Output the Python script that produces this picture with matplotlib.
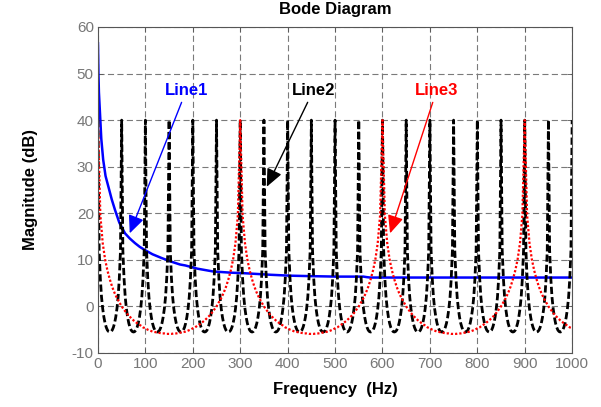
import numpy as np
import matplotlib.pyplot as plt

plt.rcParams['font.family'] = ['Liberation Sans', 'DejaVu Sans']
plt.rcParams['axes.unicode_minus'] = False

# Line1: blue solid curve
line1_freq = [0, 1, 2, 4, 7, 11, 16, 22, 29, 36, 45, 57, 67, 78, 88, 99, 115, 134,
              155, 173, 184, 210, 243, 280, 314, 363, 405, 450, 503, 560, 566, 574,
              700, 850, 1000]
line1_mag = [56.5, 50, 46, 42, 36, 31.5, 28, 25.7, 23, 20.7, 18, 15.7, 14.6, 13.6,
             12.8, 12.1, 11.2, 10.4, 9.6, 9.0, 8.8, 8.1, 7.5, 7.25, 7.1, 6.8, 6.6,
             6.5, 6.4, 6.4, 6.3, 6.2, 6.2, 6.2, 6.2]

# Line2: black dashed curve, sampled every 2.5 Hz (one row per 50 Hz)
line2_freq = np.arange(0, 1000.1, 2.5)
line2_mag = [
    40, 12, 6, 2, -0.5, -2.3, -3.6, -4.5, -5.1, -5.4, -5.5, -5.4, -5.1, -4.5, -3.6, -2.3, -0.5, 2, 6, 12,
    40, 12, 6, 2, -0.5, -2.3, -3.6, -4.5, -5.1, -5.4, -5.5, -5.4, -5.1, -4.5, -3.6, -2.3, -0.5, 2, 6, 12,
    40, 12, 6, 2, -0.5, -2.3, -3.6, -4.5, -5.1, -5.4, -5.5, -5.4, -5.1, -4.5, -3.6, -2.3, -0.5, 2, 6, 12,
    40, 12, 6, 2, -0.5, -2.3, -3.6, -4.5, -5.1, -5.4, -5.5, -5.4, -5.1, -4.5, -3.6, -2.3, -0.5, 2, 6, 12,
    40, 12, 6, 2, -0.5, -2.3, -3.6, -4.5, -5.1, -5.4, -5.5, -5.4, -5.1, -4.5, -3.6, -2.3, -0.5, 2, 6, 12,
    40, 12, 6, 2, -0.5, -2.3, -3.6, -4.5, -5.1, -5.4, -5.5, -5.4, -5.1, -4.5, -3.6, -2.3, -0.5, 2, 6, 12,
    40, 12, 6, 2, -0.5, -2.3, -3.6, -4.5, -5.1, -5.4, -5.5, -5.4, -5.1, -4.5, -3.6, -2.3, -0.5, 2, 6, 12,
    40, 12, 6, 2, -0.5, -2.3, -3.6, -4.5, -5.1, -5.4, -5.5, -5.4, -5.1, -4.5, -3.6, -2.3, -0.5, 2, 6, 12,
    40, 12, 6, 2, -0.5, -2.3, -3.6, -4.5, -5.1, -5.4, -5.5, -5.4, -5.1, -4.5, -3.6, -2.3, -0.5, 2, 6, 12,
    40, 12, 6, 2, -0.5, -2.3, -3.6, -4.5, -5.1, -5.4, -5.5, -5.4, -5.1, -4.5, -3.6, -2.3, -0.5, 2, 6, 12,
    40, 12, 6, 2, -0.5, -2.3, -3.6, -4.5, -5.1, -5.4, -5.5, -5.4, -5.1, -4.5, -3.6, -2.3, -0.5, 2, 6, 12,
    40, 12, 6, 2, -0.5, -2.3, -3.6, -4.5, -5.1, -5.4, -5.5, -5.4, -5.1, -4.5, -3.6, -2.3, -0.5, 2, 6, 12,
    40, 12, 6, 2, -0.5, -2.3, -3.6, -4.5, -5.1, -5.4, -5.5, -5.4, -5.1, -4.5, -3.6, -2.3, -0.5, 2, 6, 12,
    40, 12, 6, 2, -0.5, -2.3, -3.6, -4.5, -5.1, -5.4, -5.5, -5.4, -5.1, -4.5, -3.6, -2.3, -0.5, 2, 6, 12,
    40, 12, 6, 2, -0.5, -2.3, -3.6, -4.5, -5.1, -5.4, -5.5, -5.4, -5.1, -4.5, -3.6, -2.3, -0.5, 2, 6, 12,
    40, 12, 6, 2, -0.5, -2.3, -3.6, -4.5, -5.1, -5.4, -5.5, -5.4, -5.1, -4.5, -3.6, -2.3, -0.5, 2, 6, 12,
    40, 12, 6, 2, -0.5, -2.3, -3.6, -4.5, -5.1, -5.4, -5.5, -5.4, -5.1, -4.5, -3.6, -2.3, -0.5, 2, 6, 12,
    40, 12, 6, 2, -0.5, -2.3, -3.6, -4.5, -5.1, -5.4, -5.5, -5.4, -5.1, -4.5, -3.6, -2.3, -0.5, 2, 6, 12,
    40, 12, 6, 2, -0.5, -2.3, -3.6, -4.5, -5.1, -5.4, -5.5, -5.4, -5.1, -4.5, -3.6, -2.3, -0.5, 2, 6, 12,
    40, 12, 6, 2, -0.5, -2.3, -3.6, -4.5, -5.1, -5.4, -5.5, -5.4, -5.1, -4.5, -3.6, -2.3, -0.5, 2, 6, 12,
    40,
]

# Line3: red dotted curve, sampled every 5 Hz
line3_freq = np.arange(0, 1000.1, 5)
line3_mag = [
    # 0 - 295 Hz
    40, 19.6, 13.6, 10.1, 7.7, 5.8, 4.2, 2.9, 1.8, 0.9, 0.0, -0.7, -1.4, -2.0, -2.5,
    -3.0, -3.4, -3.8, -4.1, -4.5, -4.7, -5.0, -5.2, -5.4, -5.5, -5.6, -5.7, -5.8, -5.8, -5.9,
    -5.9, -5.9, -5.8, -5.8, -5.7, -5.6, -5.5, -5.4, -5.2, -5.0, -4.7, -4.5, -4.1, -3.8, -3.4,
    -3.0, -2.5, -2.0, -1.4, -0.7, 0.0, 0.9, 1.8, 2.9, 4.2, 5.8, 7.7, 10.1, 13.6, 19.6,
    # 300 - 595 Hz
    40, 19.6, 13.6, 10.1, 7.7, 5.8, 4.2, 2.9, 1.8, 0.9, 0.0, -0.7, -1.4, -2.0, -2.5,
    -3.0, -3.4, -3.8, -4.1, -4.5, -4.7, -5.0, -5.2, -5.4, -5.5, -5.6, -5.7, -5.8, -5.8, -5.9,
    -5.9, -5.9, -5.8, -5.8, -5.7, -5.6, -5.5, -5.4, -5.2, -5.0, -4.7, -4.5, -4.1, -3.8, -3.4,
    -3.0, -2.5, -2.0, -1.4, -0.7, 0.0, 0.9, 1.8, 2.9, 4.2, 5.8, 7.7, 10.1, 13.6, 19.6,
    # 600 - 895 Hz
    40, 19.6, 13.6, 10.1, 7.7, 5.8, 4.2, 2.9, 1.8, 0.9, 0.0, -0.7, -1.4, -2.0, -2.5,
    -3.0, -3.4, -3.8, -4.1, -4.5, -4.7, -5.0, -5.2, -5.4, -5.5, -5.6, -5.7, -5.8, -5.8, -5.9,
    -5.9, -5.9, -5.8, -5.8, -5.7, -5.6, -5.5, -5.4, -5.2, -5.0, -4.7, -4.5, -4.1, -3.8, -3.4,
    -3.0, -2.5, -2.0, -1.4, -0.7, 0.0, 0.9, 1.8, 2.9, 4.2, 5.8, 7.7, 10.1, 13.6, 19.6,
    # 900 - 1000 Hz
    40, 19.6, 13.6, 10.1, 7.7, 5.8, 4.2, 2.9, 1.8, 0.9, 0.0, -0.7, -1.4, -2.0, -2.5,
    -3.0, -3.4, -3.8, -4.1, -4.5, -4.7,
]

x_ticks = [0, 100, 200, 300, 400, 500, 600, 700, 800, 900, 1000]
y_ticks = [-10, 0, 10, 20, 30, 40, 50, 60]

fig = plt.figure(figsize=(6.01, 4.07), dpi=100)
ax = fig.add_axes([0.163, 0.1327, 0.789, 0.801])

ax.plot(line1_freq, line1_mag, color='blue', lw=1.8)
ax.plot(line2_freq, line2_mag, color='black', lw=2, linestyle=(0, (2.6, 1.1)))
ax.plot(line3_freq, line3_mag, color='red', lw=1.6, linestyle=(0, (1, 0.9)))

ax.set_xlim(0, 1000)
ax.set_ylim(-10, 60)
ax.set_xticks(x_ticks)
ax.set_yticks(y_ticks)

grey = '#777777'
ax.grid(True, color='#7a7a7a', linestyle=(0, (5.5, 3)), lw=0.8)
ax.set_axisbelow(True)
ax.tick_params(direction='in', top=True, right=True, length=3.5, width=0.6,
               colors='#555555', labelcolor=grey, labelsize=11, pad=3)
for s in ax.spines.values():
    s.set_color('#555555')
    s.set_linewidth(0.8)

ax.set_title('Bode Diagram', fontsize=12, fontweight='bold', pad=9)
ax.set_xlabel('Frequency  (Hz)', fontsize=12, fontweight='bold', labelpad=8)
ax.set_ylabel('Magnitude (dB)', fontsize=12, fontweight='bold', labelpad=24)

# annotation arrows
notes = [('Line1', 'blue', (186, 46.3), (67, 15.7)),
         ('Line2', 'black', (454, 46.3), (356, 25.7)),
         ('Line3', 'red', (714, 46.3), (616, 15.7))]
for label, c, txt_pos, tip in notes:
    ax.annotate(label, xy=tip, xytext=txt_pos, color=c, fontsize=12,
                fontweight='bold', ha='center', va='center',
                arrowprops=dict(arrowstyle='-|>,head_length=0.9,head_width=0.4',
                                color=c, lw=1, mutation_scale=12, shrinkA=1, shrinkB=0))

fig.savefig('out.png', dpi=100)
